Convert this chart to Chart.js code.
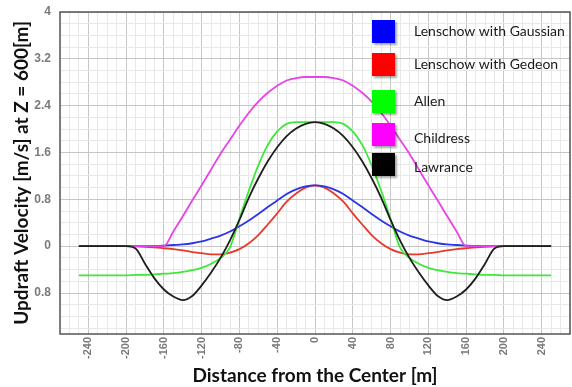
<!DOCTYPE html>
<html lang="en">
  <head>
    <meta charset="UTF-8" />
    <title>Updraft velocity profiles</title>
    <script src="https://cdn.jsdelivr.net/npm/chart.js"></script>
    <style>
      body { margin: 0; background: #fff; }
      canvas { display: block; }
    </style>
  </head>
  <body>
    <canvas id="myChart" width="572" height="387"></canvas>

    <script>
      "use strict";

      // distance from the thermal center [m]
      const distance = [
        -250, -240, -230, -220, -210, -200, -190, -180, -170, -160, -150, -140, -130,
        -120, -110, -100, -90, -80, -70, -60, -50, -40, -30, -20, -10, 0,
        10, 20, 30, 40, 50, 60, 70, 80, 90, 100, 110, 120, 130,
        140, 150, 160, 170, 180, 190, 200, 210, 220, 230, 240, 250,
      ];

      // updraft velocity at Z = 600 m [m/s]
      const lenschowGaussian = [
        0, 0, 0, 0, 0, 0, 0, 0, 0.005, 0.01, 0.02, 0.03, 0.05,
        0.08, 0.13, 0.18, 0.25, 0.34, 0.44, 0.55, 0.67, 0.78, 0.89, 0.97, 1.02, 1.04,
        1.02, 0.97, 0.89, 0.78, 0.67, 0.55, 0.44, 0.34, 0.25, 0.18, 0.13, 0.08, 0.05,
        0.03, 0.02, 0.01, 0.005, 0, 0, 0, 0, 0, 0, 0, 0,
      ];
      const lenschowGedeon = [
        0, 0, 0, 0, 0, 0, -0.005, -0.01, -0.02, -0.035, -0.05, -0.07, -0.1,
        -0.12, -0.14, -0.14, -0.11, -0.05, 0.05, 0.19, 0.37, 0.56, 0.76, 0.9, 1.0, 1.04,
        1.0, 0.9, 0.76, 0.56, 0.37, 0.19, 0.05, -0.05, -0.11, -0.14, -0.14, -0.12, -0.1,
        -0.07, -0.05, -0.035, -0.02, -0.01, -0.005, 0, 0, 0, 0, 0, 0,
      ];
      const allen = [
        -0.5, -0.5, -0.5, -0.5, -0.5, -0.5, -0.49, -0.49, -0.48, -0.47, -0.46, -0.44, -0.41,
        -0.37, -0.3, -0.2, -0.02, 0.47, 0.95, 1.38, 1.73, 1.96, 2.09, 2.12, 2.12, 2.12,
        2.12, 2.12, 2.09, 1.96, 1.73, 1.38, 0.95, 0.47, -0.02, -0.2, -0.3, -0.37, -0.41,
        -0.44, -0.46, -0.47, -0.48, -0.49, -0.49, -0.5, -0.5, -0.5, -0.5, -0.5, -0.5,
      ];
      const childress = [
        0, 0, 0, 0, 0, 0, 0, 0, 0, 0, 0.25, 0.51, 0.78,
        1.04, 1.31, 1.58, 1.82, 2.06, 2.28, 2.47, 2.62, 2.74, 2.83, 2.87, 2.89, 2.89,
        2.89, 2.87, 2.83, 2.74, 2.62, 2.47, 2.28, 2.06, 1.82, 1.58, 1.31, 1.04, 0.78,
        0.51, 0.25, 0, 0, 0, 0, 0, 0, 0, 0, 0, 0,
      ];
      const lawrance = [
        0, 0, 0, 0, 0, 0, -0.04, -0.3, -0.55, -0.74, -0.86, -0.92, -0.85,
        -0.67, -0.45, -0.2, 0.1, 0.45, 0.83, 1.16, 1.45, 1.69, 1.88, 2.01, 2.09, 2.12,
        2.09, 2.01, 1.88, 1.69, 1.45, 1.16, 0.83, 0.45, 0.1, -0.2, -0.45, -0.67, -0.85,
        -0.92, -0.86, -0.74, -0.55, -0.3, -0.04, 0, 0, 0, 0, 0, 0,
      ];

      const seriesNames = [
        "Lenschow with Gaussian",
        "Lenschow with Gedeon",
        "Allen",
        "Childress",
        "Lawrance",
      ];

      // tick labels
      const xTickValues = [-240, -200, -160, -120, -80, -40, 0, 40, 80, 120, 160, 200, 240];
      const xTickLabels = ["-240", "-200", "-160", "-120", "-80", "-40", "0", "40", "80", "120", "160", "200", "240"];
      const yTickValues = [-0.8, 0, 0.8, 1.6, 2.4, 3.2, 4];
      const yTickLabels = ["0.8", "0", "0.8", "1.6", "2.4", "3.2", "4"];

      const toPoints = (ys) => ys.map((y, i) => ({ x: distance[i], y: y }));

      function labelFor(values, labels, v) {
        const i = values.findIndex((t) => Math.abs(t - v) < 1e-6);
        return i < 0 ? "" : labels[i];
      }

      const lineColors = ["#2a35e8", "#e8392b", "#3ee83a", "#e843e8", "#1e1e1e"];
      const swatchColors = ["#0000ff", "#ff0000", "#00ff00", "#ff00ff", "#000000"];
      const seriesData = [lenschowGaussian, lenschowGedeon, allen, childress, lawrance];
      const drawOrder = [4, 5, 3, 2, 1];

      const datasets = seriesData.map((ys, i) => ({
        label: seriesNames[i],
        data: toPoints(ys),
        borderColor: lineColors[i],
        borderWidth: 1.8,
        pointRadius: 0,
        fill: false,
        cubicInterpolationMode: "monotone",
        order: drawOrder[i],
      }));

      // frame around the plot area
      const framePlugin = {
        id: "frame",
        afterDatasetsDraw(chart) {
          const { ctx, chartArea: a } = chart;
          ctx.save();
          ctx.strokeStyle = "#555555";
          ctx.lineWidth = 1.5;
          ctx.strokeRect(a.left, a.top, a.right - a.left, a.bottom - a.top);
          ctx.restore();
        },
      };

      // legend boxes drawn inside the plot, top right
      const boxLegend = {
        id: "boxLegend",
        afterDraw(chart) {
          const ctx = chart.ctx;
          const boxTops = [20, 53, 90, 123, 153];
          const textMid = [31, 64, 101, 138, 167];
          ctx.save();
          seriesNames.forEach((name, i) => {
            ctx.save();
            ctx.shadowColor = "rgba(0,0,0,0.35)";
            ctx.shadowBlur = 2;
            ctx.shadowOffsetX = 1.5;
            ctx.shadowOffsetY = 1.5;
            ctx.fillStyle = swatchColors[i];
            ctx.fillRect(372, boxTops[i], 23, 23);
            ctx.restore();
            ctx.fillStyle = "#1a1a1a";
            ctx.font = "14px Lato";
            ctx.textBaseline = "middle";
            ctx.textAlign = "left";
            ctx.fillText(name, 414, textMid[i]);
          });
          ctx.restore();
        },
      };

      const gridColor = (major) => (major ? "#c6c6c6" : "#e8e8e8");
      const tickFont = { family: "Liberation Sans", size: 11, weight: "bold" };

      new Chart(document.getElementById("myChart"), {
        type: "line",
        data: { datasets },
        plugins: [framePlugin, boxLegend],
        options: {
          responsive: false,
          devicePixelRatio: 1,
          animation: false,
          layout: { padding: { top: 12, right: 2, left: 0, bottom: 0 } },
          plugins: {
            legend: { display: false },
            tooltip: { enabled: false },
          },
          scales: {
            x: {
              type: "linear",
              min: -270,
              max: 270,
              afterBuildTicks(scale) {
                const ticks = [];
                for (let v = -270; v <= 270; v += 10) ticks.push({ value: v });
                scale.ticks = ticks;
              },
              afterFit(scale) {
                scale.height = 53;
                scale.paddingLeft = 0;
                scale.paddingRight = 0;
              },
              grid: {
                drawTicks: false,
                color: (c) => gridColor(c.tick && c.tick.value % 40 === 0 && Math.abs(c.tick.value) <= 240),
                lineWidth: 1,
              },
              border: { display: false },
              ticks: {
                autoSkip: false,
                maxRotation: 90,
                minRotation: 90,
                padding: 3,
                color: "#7a7a7a",
                font: tickFont,
                callback: (v) => labelFor(xTickValues, xTickLabels, v),
              },
              title: {
                display: true,
                text: "Distance from the Center [m]",
                color: "#111",
                font: { family: "Lato", size: 19, weight: "bold" },
                padding: { top: 0, bottom: 0 },
              },
            },
            y: {
              min: -1.5,
              max: 4,
              afterBuildTicks(scale) {
                const ticks = [];
                for (let i = -7; i <= 20; i++) ticks.push({ value: i / 5 });
                scale.ticks = ticks;
              },
              afterFit(scale) {
                scale.width = 60;
                scale.paddingTop = 0;
                scale.paddingBottom = 0;
              },
              grid: {
                drawTicks: false,
                color: (c) => gridColor(c.tick && Math.abs(Math.round(c.tick.value * 5)) % 4 === 0),
                lineWidth: 1,
              },
              border: { display: false },
              ticks: {
                autoSkip: false,
                padding: 9,
                color: "#7a7a7a",
                font: { family: "Liberation Sans", size: 12, weight: "bold" },
                callback: (v) => labelFor(yTickValues, yTickLabels, v),
              },
              title: {
                display: true,
                text: "Updraft Velocity [m/s] at Z = 600[m]",
                color: "#111",
                font: { family: "Lato", size: 19, weight: "bold" },
                padding: { top: 10, bottom: 0 },
              },
            },
          },
        },
      });
    </script>
  </body>
</html>
